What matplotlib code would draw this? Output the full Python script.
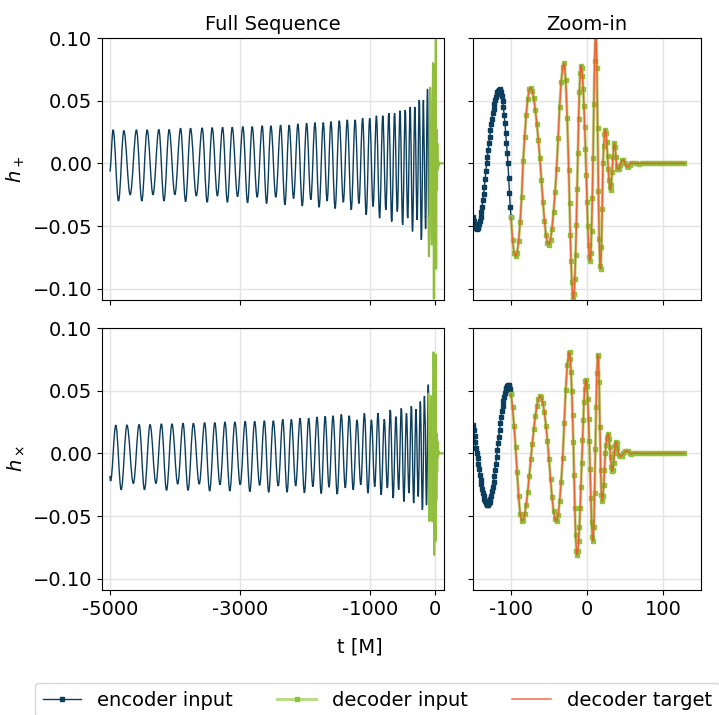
import numpy as np
import matplotlib
matplotlib.use("Agg")
import matplotlib.pyplot as plt
from matplotlib.path import Path
from matplotlib.patches import PathPatch

# ---------------- data ----------------
# h_plus, full sequence: extrema of the inspiral (encoder input)
plus_start_t = [-5000]
plus_start_h = [-0.0065]
plus_peak_t = [-4949, -4784, -4590, -4426, -4246, -4088, -3912, -3759, -3580, -3426,
               -3266, -3118, -2954, -2811, -2657, -2523, -2374, -2242, -2108, -1974,
               -1846, -1718, -1600, -1472, -1349, -1228, -1113, -1004, -901, -803,
               -710, -622, -538, -458, -382, -310, -242, -178]
plus_peak_h = [0.0267, 0.026, 0.0267, 0.0267, 0.027, 0.027, 0.028, 0.028, 0.0283, 0.0285,
               0.0288, 0.0288, 0.0293, 0.0293, 0.030, 0.030, 0.0305, 0.0305, 0.0315, 0.032,
               0.0325, 0.0325, 0.0333, 0.034, 0.0347, 0.0347, 0.036, 0.036, 0.038, 0.038,
               0.040, 0.040, 0.042, 0.0426, 0.045, 0.045, 0.0506, 0.0506]
plus_trough_t = [-4866, -4687, -4508, -4336, -4167, -4000, -3835, -3670, -3503, -3346,
                 -3192, -3036, -2882, -2734, -2590, -2448, -2308, -2175, -2041, -1910,
                 -1782, -1659, -1536, -1410, -1288, -1170, -1058, -952, -852, -756,
                 -666, -580, -498, -420, -346, -276, -210]
plus_trough_h = [-0.030, -0.025, -0.030, -0.025, -0.030, -0.025, -0.0305, -0.026, -0.031, -0.026,
                 -0.031, -0.0265, -0.0315, -0.027, -0.032, -0.027, -0.033, -0.028, -0.034, -0.029,
                 -0.035, -0.030, -0.036, -0.031, -0.037, -0.032, -0.041, -0.0344, -0.0437, -0.037,
                 -0.0464, -0.0384, -0.049, -0.0437, -0.0543, -0.045, -0.061]

# h_cross, full sequence: extrema of the inspiral (encoder input)
cross_start_t = [-5000]
cross_start_h = [-0.018]
cross_peak_t = [-4908, -4736, -4549, -4381, -4207, -4044, -3874, -3715, -3542, -3386,
                -3229, -3077, -2918, -2773, -2624, -2486, -2341, -2209, -2075, -1942,
                -1814, -1689, -1568, -1441, -1319, -1199, -1086, -978, -877, -780,
                -688, -601, -518, -439, -364, -293, -226, -162]
cross_peak_h = [0.0225, 0.0225, 0.023, 0.023, 0.0235, 0.0235, 0.024, 0.024, 0.0245, 0.0245,
                0.025, 0.025, 0.0255, 0.0255, 0.026, 0.026, 0.027, 0.027, 0.028, 0.028,
                0.029, 0.0295, 0.030, 0.031, 0.030, 0.0267, 0.032, 0.0267, 0.032, 0.0272,
                0.0347, 0.0293, 0.036, 0.032, 0.0378, 0.0352, 0.0413, 0.0458]
cross_trough_t = [-4988, -4825, -4638, -4467, -4291, -4128, -3956, -3797, -3625, -3465,
                  -3306, -3155, -2995, -2847, -2696, -2557, -2411, -2275, -2142, -2008,
                  -1878, -1750, -1630, -1504, -1380, -1258, -1142, -1031, -927, -828,
                  -733, -644, -559, -478, -401, -328, -259, -194]
cross_trough_h = [-0.022, -0.029, -0.024, -0.029, -0.024, -0.0295, -0.0245, -0.0295, -0.0245, -0.030,
                  -0.025, -0.030, -0.025, -0.0305, -0.0255, -0.031, -0.026, -0.031, -0.026, -0.0315,
                  -0.0265, -0.032, -0.027, -0.0325, -0.0275, -0.029, -0.025, -0.0317, -0.0265, -0.033,
                  -0.0277, -0.0357, -0.029, -0.0384, -0.0317, -0.0397, -0.0344, -0.045]

# last stretch of the encoder input, sampled every 1 M
enc_fine_t = np.arange(-150, -99, 1)
enc_fine_plus = [-0.0428, -0.046, -0.0486, -0.0505, -0.0518, -0.052, -0.0516, -0.0505, -0.0486, -0.046,
                 -0.0428, -0.039, -0.0345, -0.0295, -0.0243, -0.0185, -0.0124, -0.0062, 0.0, 0.0054,
                 0.0109, 0.0162, 0.0213, 0.0263, 0.031, 0.0356, 0.0398, 0.0436, 0.047, 0.0502,
                 0.0528, 0.055, 0.0568, 0.058, 0.0588, 0.059, 0.0584, 0.0566, 0.0537, 0.0496,
                 0.0446, 0.0387, 0.0319, 0.0245, 0.0166, 0.0084, 0.0, -0.0119, -0.0236, -0.0346,
                 -0.043]
enc_fine_cross = [0.023, 0.0185, 0.014, 0.009, 0.004, 0.0, -0.0037, -0.0082, -0.0127, -0.0169,
                  -0.021, -0.0248, -0.0283, -0.0315, -0.0342, -0.0365, -0.0384, -0.0398, -0.0406, -0.041,
                  -0.0408, -0.0399, -0.0385, -0.0363, -0.0337, -0.0304, -0.0267, -0.0226, -0.018, -0.0132,
                  -0.0082, -0.0031, 0.0023, 0.0079, 0.0134, 0.0188, 0.024, 0.0289, 0.0335, 0.0378,
                  0.0417, 0.0451, 0.048, 0.0504, 0.0523, 0.0537, 0.0544, 0.0546, 0.0536, 0.0512,
                  0.0476]

# decoder (merger + ringdown), non-uniform sampling
dec_t = np.concatenate([np.arange(-100, -25, 2), np.arange(-24, 41, 1),
                        np.arange(42, 61, 2), np.arange(64, 129, 4)])
dec_plus = [
    -0.043, -0.061, -0.0715, -0.0742, -0.0717, -0.0623, -0.047, -0.0271, 0.002, 0.0214,
    0.0385, 0.0515, 0.0591, 0.0605, 0.0578, 0.0518, 0.0429, 0.0316, 0.0185, 0.0043,
    -0.013, -0.0306, -0.0456, -0.0569, -0.0635, -0.0648, -0.0609, -0.052, -0.039, -0.0228,
    -0.0046, 0.0203, 0.045, 0.0646, 0.0767, 0.080, 0.0664, 0.0358,
    -0.0055, -0.032, -0.057, -0.078, -0.0944, -0.1045, -0.108, -0.104, -0.092, -0.073,
    -0.0488, -0.0206, 0.0083, 0.035, 0.0571, 0.072, 0.078, 0.0762, 0.0699, 0.0596,
    0.0459, 0.0294, 0.0113, -0.009, -0.0309, -0.050, -0.0652, -0.0747, -0.078, -0.0718,
    -0.054, -0.0277, 0.0042, 0.047, 0.0817, 0.1016, 0.104, 0.076, 0.028, -0.022,
    -0.060, -0.082, -0.084, -0.0665, -0.0366, 0.0, 0.0135, 0.0234, 0.027, 0.0243,
    0.0168, 0.006, -0.0047, -0.0131, -0.019, -0.021, -0.017, -0.0065, 0.005, 0.013,
    0.016, 0.013, 0.005, -0.002, -0.0045,
    -0.0048, -0.001, 0.0025, 0.0028, 0.0, -0.0025, -0.0027, -0.001, 0.0005, 0.0,
    0.0003, -0.0002, 0.0001, 0.0, 0.0, 0.0, 0.0, 0.0, 0.0, 0.0,
    0.0, 0.0, 0.0, 0.0, 0.0, 0.0, 0.0]
dec_cross = [
    0.0476, 0.0367, 0.0221, 0.0052, -0.0151, -0.0343, -0.048, -0.054, -0.0532, -0.0487,
    -0.041, -0.0307, -0.0183, -0.0048, 0.0078, 0.0193, 0.0295, 0.0376, 0.0431, 0.0457,
    0.0449, 0.0404, 0.0326, 0.0222, 0.0098, -0.0042, -0.0206, -0.035, -0.046, -0.0526,
    -0.0543, -0.0494, -0.0384, -0.0225, -0.0039, 0.024, 0.0507, 0.0703,
    0.0799, 0.0806, 0.0755, 0.065, 0.0496, 0.0304, 0.0089, -0.0172, -0.0438, -0.0648,
    -0.0777, -0.081, -0.0777, -0.0701, -0.0587, -0.0437, -0.0265, -0.0077, 0.0104, 0.027,
    0.0411, 0.0517, 0.0577, 0.0589, 0.0538, 0.0431, 0.0278, 0.0096, -0.0124, -0.0357,
    -0.0545, -0.0664, -0.070, -0.0587, -0.0318, 0.0035, 0.0372, 0.0639, 0.0787, 0.0778,
    0.057, 0.0209, -0.0133, -0.0334, -0.0378, -0.0338, -0.0253, -0.0136, 0.0, 0.0066,
    0.0119, 0.015, 0.0154, 0.0115, 0.0048, -0.0033, -0.0105, -0.0143, -0.0132, -0.0075,
    0.0, 0.0066, 0.0094, 0.0081, 0.0042,
    -0.001, -0.0025, -0.0018, 0.0, 0.0015, 0.002, 0.0018, 0.0005, -0.0005, 0.0,
    0.0002, 0.0001, -0.0001, 0.0, 0.0, 0.0, 0.0, 0.0, 0.0, 0.0,
    0.0, 0.0, 0.0, 0.0, 0.0, 0.0, 0.0]

col_titles = ["Full Sequence", "Zoom-in"]
row_labels = [r"$h_+$", r"$h_\times$"]
full_ticks = [-5000, -3000, -1000, 0]
full_ticklabels = ["-5000", "-3000", "-1000", "0"]
zoom_ticks = [-100, 0, 100]
zoom_ticklabels = ["-100", "0", "100"]
y_ticks = [-0.10, -0.05, 0.0, 0.05, 0.10]
legend_labels = ["encoder input", "decoder input", "decoder target"]


def extrema(start_t, start_h, pk_t, pk_h, tr_t, tr_h):
    t = np.concatenate([start_t, pk_t, tr_t]).astype(float)
    h = np.concatenate([start_h, pk_h, tr_h]).astype(float)
    o = np.argsort(t)
    return t[o], h[o]


def smooth_path(t, h, k=0.36):
    # cubic Bezier between successive extrema (horizontal tangents at extrema)
    verts = [(t[0], h[0])]
    codes = [Path.MOVETO]
    for i in range(len(t) - 1):
        d = t[i + 1] - t[i]
        verts += [(t[i] + k * d, h[i]), (t[i + 1] - k * d, h[i + 1]), (t[i + 1], h[i + 1])]
        codes += [Path.CURVE4] * 3
    return verts, codes


plus_ext = extrema(plus_start_t, plus_start_h, plus_peak_t, plus_peak_h, plus_trough_t, plus_trough_h)
cross_ext = extrema(cross_start_t, cross_start_h, cross_peak_t, cross_peak_h, cross_trough_t, cross_trough_h)

series = [(plus_ext, np.asarray(enc_fine_plus), np.asarray(dec_plus)),
          (cross_ext, np.asarray(enc_fine_cross), np.asarray(dec_cross))]

C_ENC = "#0b3d5c"
C_DIN = "#8cc43c"
C_TGT = "#f0522a"
C_DIN_LINE = (0.55, 0.77, 0.24, 0.6)

plt.rcParams["font.family"] = "DejaVu Sans"
plt.rcParams["font.size"] = 14

W, H = 719, 715
fig = plt.figure(figsize=(W / 100, H / 100), dpi=100)


def axrect(x0, x1, y0, y1):
    return [x0 / W, 1 - y1 / H, (x1 - x0) / W, (y1 - y0) / H]


rows_y = [(38, 300), (328, 590)]
cols_x = [(102, 444), (473, 701)]

handles = None
for r, ((ext_t, ext_h), fine_h, dh) in enumerate(series):
    for c in range(2):
        ax = fig.add_axes(axrect(cols_x[c][0], cols_x[c][1], rows_y[r][0], rows_y[r][1]))
        ax.grid(True, color="#e3e3e3", lw=1.0)
        ax.set_axisbelow(True)
        if c == 0:
            verts, codes = smooth_path(ext_t, ext_h)
            verts += [(enc_fine_t[0], fine_h[0])]
            codes += [Path.LINETO]
            ax.add_patch(PathPatch(Path(verts, codes), fill=False, edgecolor=C_ENC, lw=1.0))
            ax.plot(enc_fine_t, fine_h, color=C_ENC, lw=1.0)
            ax.plot(dec_t, dh, color=C_TGT, lw=0.9, alpha=0.9)
            ax.plot(dec_t, dh, color=C_DIN, lw=1.5, alpha=0.95)
            ax.set_xlim(-5120, 138)
            ax.set_xticks(full_ticks)
            ax.set_xticklabels(full_ticklabels if r == 1 else [])
            ax.set_ylabel(row_labels[r])
            ax.set_yticks(y_ticks)
        else:
            l1, = ax.plot(enc_fine_t, fine_h, color=C_ENC, lw=1.0, marker="s", ms=2.6)
            l2, = ax.plot(dec_t, dh, color=C_DIN_LINE, lw=2.2, marker="s", ms=2.2,
                          mfc=C_DIN, mec=C_DIN)
            l3, = ax.plot(dec_t, dh, color=C_TGT, lw=1.1, alpha=0.85)
            handles = [l1, l2, l3]
            ax.set_xlim(-150, 150)
            ax.set_xticks(zoom_ticks)
            ax.set_xticklabels(zoom_ticklabels if r == 1 else [])
            ax.set_yticks(y_ticks)
            ax.set_yticklabels([])
        ax.set_ylim(-0.109, 0.100)
        if r == 0:
            ax.set_title(col_titles[c], fontsize=14)

fig.text(0.5, 1 - 647 / H, "t [M]", ha="center", va="center", fontsize=14)
fig.legend(handles, legend_labels, loc="upper left", ncol=3, columnspacing=2.3,
           bbox_to_anchor=(25 / W, 1 - 673 / H), fontsize=14, frameon=True)

fig.savefig("out.png", dpi=100)
